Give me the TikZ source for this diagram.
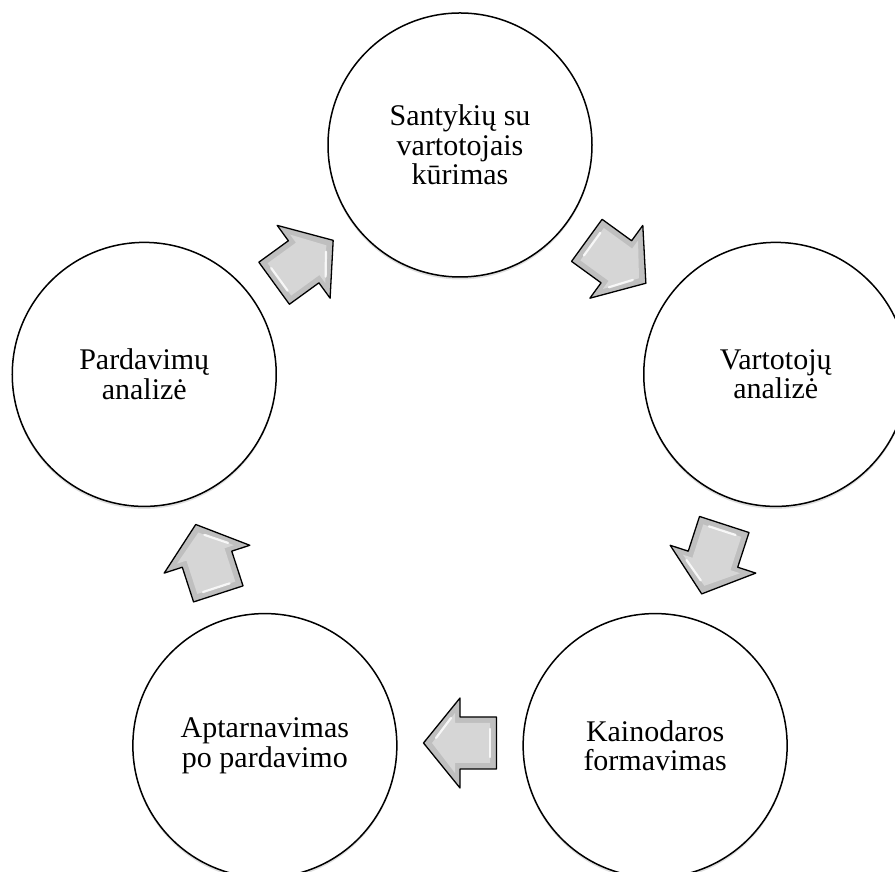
\documentclass[tikz,border=0pt]{standalone}
\usepackage{fontspec}
\setmainfont{Liberation Serif}
\usetikzlibrary{shadows}
\tikzset{
  stage/.style={circle, draw=black, line width=1.5pt, fill=white,
    minimum size=264pt, inner sep=0pt, align=center,
    font=\fontsize{30}{29.5}\selectfont,
    drop shadow={shadow xshift=0pt, shadow yshift=-2.5pt, opacity=0.25}},
  blockarrow/.pic={
    \path[fill=gray!50, draw=black, line width=1.3pt, line join=round]
      (36.5,0) -- (0,45) -- (0,26) -- (-36.5,26) -- (-36.5,-26)
      -- (0,-26) -- (0,-45) -- cycle;
    \path[fill=gray!32]
      (28,0) -- (5,30) -- (5,20) -- (-30,20) -- (-30,-20)
      -- (5,-20) -- (5,-30) -- cycle;
    \draw[white, line width=2.2pt, opacity=0.85, line cap=round]
      (-30,14) -- (-30,-14);
    \draw[white, line width=2.2pt, opacity=0.85, line cap=round]
      (24,-5) -- (9,-25);
  }
}
\begin{document}
\begin{tikzpicture}[x=1pt,y=1pt]
\useasboundingbox (0,0) rectangle (895,872);
\clip (0,0) rectangle (895,872);
\begin{scope}[shift={(460,395)}]
  \node[stage] (s1) at (90:332)  {Santykių su\\vartotojais\\kūrimas};
  \node[stage] (s2) at (18:332)  {Vartotojų\\analizė};
  \node[stage] (s3) at (-54:332) {Kainodaros\\formavimas};
  \node[stage] (s4) at (234:332) {Aptarnavimas\\po pardavimo};
  \node[stage] (s5) at (162:332) {Pardavimų\\analizė};
  \pic[rotate=-36]  at (54:266)  {blockarrow};
  \pic[rotate=-108] at (-18:266) {blockarrow};
  \pic[rotate=180]  at (270:266) {blockarrow};
  \pic[rotate=108]  at (198:266) {blockarrow};
  \pic[rotate=36]   at (126:266) {blockarrow};
\end{scope}
\end{tikzpicture}
\end{document}
